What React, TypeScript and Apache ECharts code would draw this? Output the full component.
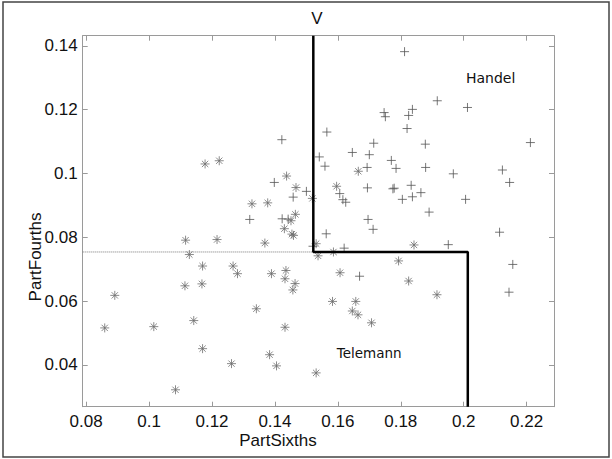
import React, { useEffect, useRef } from "react";
import * as echarts from "echarts";

// Axis ticks
const xTicks = [0.08, 0.1, 0.12, 0.14, 0.16, 0.18, 0.2, 0.22];
const yTicks = [0.04, 0.06, 0.08, 0.1, 0.12, 0.14];
const xRange = [0.0789, 0.2287];
const yRange = [0.0269, 0.1432];

// Handel ('+' markers)
const handelX = [
  0.132, 0.1398, 0.1422, 0.1423, 0.1442, 0.1458, 0.15, 0.1521, 0.1541, 0.1559,
  0.1565, 0.1563, 0.1606, 0.1616, 0.1625, 0.162, 0.1646, 0.1669, 0.1694, 0.1693,
  0.1696, 0.17, 0.1712, 0.1714, 0.1747, 0.1751, 0.177, 0.1775, 0.1779, 0.1785,
  0.1805, 0.1812, 0.182, 0.1825, 0.1837, 0.1833, 0.1837, 0.1864, 0.1878, 0.1879,
  0.189, 0.1916, 0.1951, 0.1967, 0.2006, 0.2012, 0.2114, 0.2123, 0.2146, 0.2144,
  0.2156, 0.2212,
];
const handelY = [
  0.0856, 0.0972, 0.1106, 0.0858, 0.0857, 0.0926, 0.0944, 0.0772, 0.1052, 0.1023,
  0.113, 0.0811, 0.0937, 0.0918, 0.091, 0.0766, 0.1066, 0.0678, 0.0955, 0.1019,
  0.0856, 0.1059, 0.0825, 0.1095, 0.1191, 0.1178, 0.1041, 0.0952, 0.0954, 0.1016,
  0.0919, 0.1382, 0.1141, 0.1182, 0.1201, 0.0963, 0.0927, 0.094, 0.1092, 0.1019,
  0.0879, 0.1228, 0.0777, 0.0999, 0.0919, 0.1207, 0.0816, 0.1011, 0.0972, 0.0628,
  0.0715, 0.1097,
];

// Telemann ('*' markers)
const telemannX = [
  0.0859, 0.0891, 0.1015, 0.1084, 0.1116, 0.1114, 0.1128, 0.1142, 0.117, 0.1168,
  0.117, 0.1178, 0.1223, 0.1216, 0.1262, 0.1267, 0.1281, 0.1327, 0.1341, 0.1368,
  0.1377, 0.1383, 0.1389, 0.1405, 0.143, 0.1432, 0.1435, 0.1432, 0.1437, 0.1451,
  0.1454, 0.1459, 0.1467, 0.1465, 0.1464, 0.1457, 0.1519, 0.1531, 0.1537, 0.1531,
  0.1586, 0.1583, 0.1596, 0.1607, 0.1646, 0.1657, 0.1664, 0.1665, 0.1707, 0.1793,
  0.1825, 0.1842, 0.1915,
];
const telemannY = [
  0.0516, 0.0618, 0.052, 0.0322, 0.0791, 0.0648, 0.0746, 0.0539, 0.071, 0.0654,
  0.0451, 0.103, 0.104, 0.0793, 0.0404, 0.071, 0.0686, 0.0905, 0.0576, 0.0782,
  0.0908, 0.0432, 0.0686, 0.0397, 0.0827, 0.067, 0.0696, 0.0518, 0.0992, 0.0852,
  0.081, 0.0806, 0.0956, 0.0872, 0.0655, 0.0635, 0.0922, 0.078, 0.0742, 0.0375,
  0.0754, 0.0599, 0.096, 0.0689, 0.0569, 0.0599, 0.0557, 0.1007, 0.0532, 0.0726,
  0.0663, 0.0776, 0.062,
];

// Decision boundary
const boundaryX = [0.1522, 0.1522, 0.2013, 0.2013];
const boundaryY = [0.1432, 0.0754, 0.0754, 0.0269];
const dottedX = [0.0789, 0.1522];
const dottedY = [0.0754, 0.0754];

const zip = (a: number[], b: number[]) => a.map((v, i) => [v, b[i]]);

const plusPath = "path://M0,5L10,5M5,0L5,10";
const starPath = "path://M5,0L5,10M0,5L10,5M1.5,1.5L8.5,8.5M8.5,1.5L1.5,8.5";

const axisColor = "#9a9a9a";
const font = "'Liberation Sans', Arial, sans-serif";

export default function App() {
  const ref = useRef<HTMLDivElement>(null);
  useEffect(() => {
    if (!ref.current) return;
    const chart = echarts.init(ref.current, undefined, { renderer: "svg" });
    const xAxisBase = {
      type: "value",
      min: xRange[0],
      max: xRange[1],
      splitLine: { show: false },
      axisLine: { show: true, onZero: false, lineStyle: { color: axisColor, width: 1 } },
      axisTick: { show: true, inside: true, length: 5, customValues: xTicks, lineStyle: { color: axisColor } },
    };
    const yAxisBase = {
      type: "value",
      min: yRange[0],
      max: yRange[1],
      splitLine: { show: false },
      axisLine: { show: true, onZero: false, lineStyle: { color: axisColor, width: 1 } },
      axisTick: { show: true, inside: true, length: 5, customValues: yTicks, lineStyle: { color: axisColor } },
    };
    chart.setOption({
      animation: false,
      backgroundColor: "#ffffff",
      grid: { left: 82.7, right: 58, top: 35.7, bottom: 52.3 },
      xAxis: [
        {
          ...xAxisBase,
          position: "bottom",
          axisLabel: { customValues: xTicks, color: "#111", fontSize: 17, fontFamily: font, margin: 6 },
        },
        { ...xAxisBase, position: "top", axisLabel: { show: false } },
      ],
      yAxis: [
        {
          ...yAxisBase,
          position: "left",
          axisLabel: { customValues: yTicks, color: "#111", fontSize: 17, fontFamily: font, margin: 5 },
        },
        { ...yAxisBase, position: "right", axisLabel: { show: false } },
      ],
      series: [
        {
          type: "scatter",
          name: "Telemann",
          silent: true,
          data: zip(telemannX, telemannY),
          symbol: starPath,
          symbolSize: 9,
          itemStyle: { color: "rgba(0,0,0,0)", borderColor: "#6e6e6e", borderWidth: 1 },
        },
        {
          type: "scatter",
          name: "Handel",
          silent: true,
          data: zip(handelX, handelY),
          symbol: plusPath,
          symbolSize: 9,
          itemStyle: { color: "rgba(0,0,0,0)", borderColor: "#555", borderWidth: 1 },
        },
        {
          type: "line",
          silent: true,
          data: zip(dottedX, dottedY),
          symbol: "none",
          lineStyle: { color: "#777", width: 1, type: [1, 1] },
        },
        {
          type: "line",
          silent: true,
          data: zip(boundaryX, boundaryY),
          symbol: "none",
          lineStyle: { color: "#000", width: 2.5 },
          z: 5,
        },
      ],
      graphic: [
        {
          type: "rect",
          shape: { x: 3, y: 2, width: 606, height: 455 },
          style: { fill: "none", stroke: "#444", lineWidth: 1.5 },
          silent: true,
        },
        {
          type: "text",
          x: 317,
          y: 18,
          style: { text: "V", fontSize: 17, fontFamily: font, fill: "#111", align: "center", verticalAlign: "middle" },
        },
        {
          type: "text",
          x: 278,
          y: 440,
          style: { text: "PartSixths", fontSize: 17, fontFamily: font, fill: "#111", align: "center", verticalAlign: "middle" },
        },
        {
          type: "text",
          x: 35,
          y: 257,
          rotation: Math.PI / 2,
          style: { text: "PartFourths", fontSize: 17, fontFamily: font, fill: "#111", align: "center", verticalAlign: "middle" },
        },
        {
          type: "text",
          x: 466,
          y: 78,
          style: { text: "Handel", fontSize: 14, fontFamily: "'DejaVu Sans', sans-serif", fill: "#111", align: "left", verticalAlign: "middle" },
        },
        {
          type: "text",
          x: 336.7,
          y: 353.3,
          style: { text: "Telemann", fontSize: 13.5, fontFamily: "'DejaVu Sans', sans-serif", fill: "#111", align: "left", verticalAlign: "middle" },
        },
      ],
    });
    return () => chart.dispose();
  }, []);
  return (
    <div
      ref={ref}
      style={{ position: "absolute", left: 0, top: 0, width: 612, height: 459 }}
    />
  );
}
